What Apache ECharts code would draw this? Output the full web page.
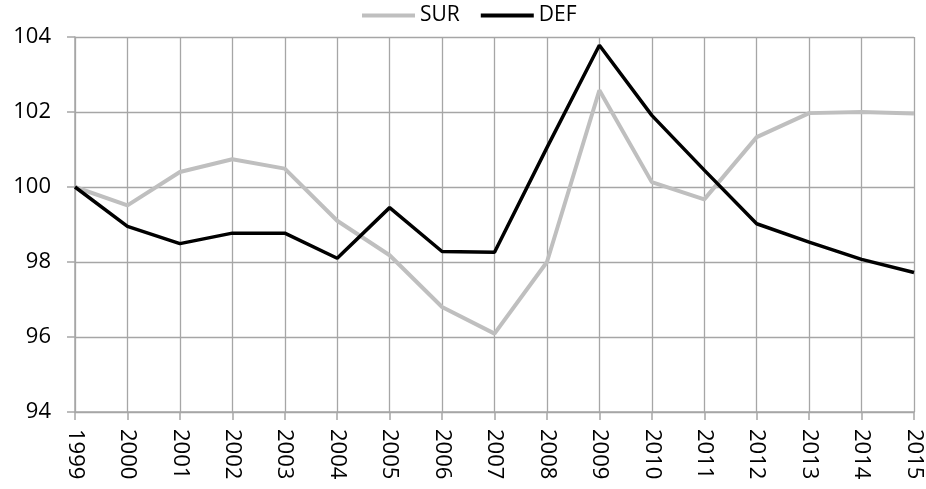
<!DOCTYPE html>
<html>
<head>
<meta charset="utf-8">
<script src="https://cdn.jsdelivr.net/npm/echarts@6/dist/echarts.min.js"></script>
<style>html,body{margin:0;padding:0;background:#fff}#c{width:926px;height:489px}</style>
</head>
<body>
<div id="c"></div>
<script>
const years = ['1999','2000','2001','2002','2003','2004','2005','2006','2007','2008','2009','2010','2011','2012','2013','2014','2015'];
const sur = [100, 99.51, 100.40, 100.74, 100.49, 99.10, 98.18, 96.80, 96.09, 98.00, 102.58, 100.13, 99.67, 101.33, 101.97, 102.00, 101.96];
const def = [100, 98.95, 98.49, 98.77, 98.77, 98.10, 99.45, 98.28, 98.26, 101.05, 103.78, 101.91, 100.45, 99.02, 98.53, 98.07, 97.72];
const yTicks = {min: 94, max: 104, interval: 2};

const font = 'Open Sans';
const chart = echarts.init(document.getElementById('c'), null, {renderer: 'canvas'});
chart.setOption({
  animation: false,
  backgroundColor: '#fff',
  textStyle: {fontFamily: font},
  legend: {
    top: 5,
    left: 362,
    padding: 0,
    itemWidth: 53,
    itemHeight: 4,
    itemGap: 21,
    icon: 'rect',
    textStyle: {fontFamily: font, fontSize: 21, color: '#000'},
    data: [{name: 'SUR'}, {name: 'DEF'}]
  },
  grid: {left: 75, right: 12, top: 37, bottom: 77, containLabel: false},
  xAxis: {
    type: 'category',
    data: years,
    boundaryGap: false,
    axisLine: {lineStyle: {color: '#a6a6a6', width: 1.5}},
    axisTick: {show: true, length: 8, alignWithLabel: true, lineStyle: {color: '#a6a6a6', width: 1.5}},
    axisLabel: {rotate: -90, fontFamily: font, fontSize: 22, color: '#000', margin: 17, interval: 0},
    splitLine: {show: true, lineStyle: {color: '#a6a6a6', width: 1.3}}
  },
  yAxis: {
    type: 'value',
    min: yTicks.min, max: yTicks.max, interval: yTicks.interval,
    axisLine: {show: true, lineStyle: {color: '#a6a6a6', width: 1.5}},
    axisTick: {show: true, length: 8, lineStyle: {color: '#a6a6a6', width: 1.5}},
    axisLabel: {fontFamily: font, fontSize: 22, color: '#000', margin: 24},
    splitLine: {show: true, lineStyle: {color: '#a6a6a6', width: 1.3}}
  },
  series: [
    {name: 'SUR', type: 'line', data: sur, showSymbol: false, symbol: 'none',
     lineStyle: {color: '#bfbfbf', width: 4}, itemStyle: {color: '#bfbfbf'}},
    {name: 'DEF', type: 'line', data: def, showSymbol: false, symbol: 'none',
     lineStyle: {color: '#000000', width: 3.5}, itemStyle: {color: '#000000'}}
  ]
});
</script>
</body>
</html>
